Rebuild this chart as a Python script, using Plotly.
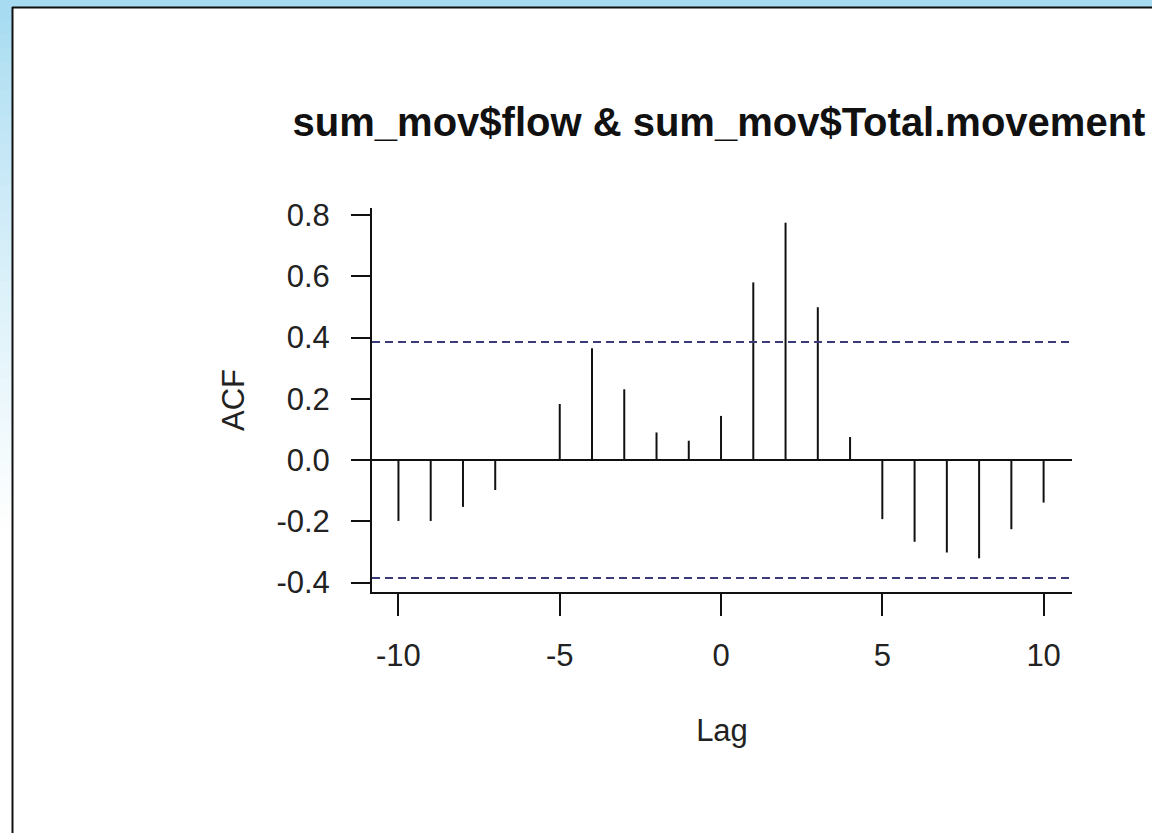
import plotly.graph_objects as go

# Cross-correlation of sum_mov$flow and sum_mov$Total.movement
lags = list(range(-10, 11))
acf_values = [-0.199, -0.199, -0.153, -0.098, 0.0, 0.183, 0.365, 0.231, 0.090, 0.063,
              0.144, 0.580, 0.775, 0.499, 0.075, -0.193, -0.267, -0.302, -0.321, -0.226, -0.139]
ci_bound = 0.385

y_tick_vals = [-0.4, -0.2, 0.0, 0.2, 0.4, 0.6, 0.8]
y_tick_text = ["-0.4", "-0.2", "0.0", "0.2", "0.4", "0.6", "0.8"]
x_tick_vals = [-10, -5, 0, 5, 10]
x_tick_text = ["-10", "-5", "0", "5", "10"]

title_text = "sum_mov$flow & sum_mov$Total.movement"

W, H = 1152, 833
L, R, T, B = 372, 80, 208, 241
PW, PH = W - L - R, H - T - B
FONT = "Liberation Sans, Arial, sans-serif"


def px_x(p):
    return (p - L) / PW


def px_y(p):
    return (H - B - p) / PH


# vertical stems from zero to each correlation value
stem_x, stem_y = [], []
for lag, v in zip(lags, acf_values):
    stem_x += [lag, lag, None]
    stem_y += [0, v, None]

fig = go.Figure()
fig.add_trace(go.Scatter(x=stem_x, y=stem_y, mode="lines",
                         line=dict(color="#111111", width=2),
                         hoverinfo="skip", showlegend=False))

shapes = []
# window frame: light blue strips with a dark border around the white page
n_bands = 60
band_h = (H - 7) / n_bands
top_rgb = (166, 219, 241)
for i in range(n_bands):
    t = min(1.0, (i * band_h) / 520.0)
    c = tuple(int(round(a + (255 - a) * (t ** 0.8))) for a in top_rgb)
    y0 = 7 + i * band_h
    shapes.append(dict(type="rect", xref="paper", yref="paper",
                       x0=px_x(0), x1=px_x(12), y0=px_y(y0 + band_h + 0.5), y1=px_y(y0),
                       line=dict(width=0), fillcolor="rgb(%d,%d,%d)" % c, layer="below"))
shapes.append(dict(type="rect", xref="paper", yref="paper",
                   x0=px_x(0), x1=px_x(W), y0=px_y(7.5), y1=px_y(0),
                   line=dict(width=0), fillcolor="rgb(166,219,241)", layer="below"))
shapes.append(dict(type="line", xref="paper", yref="paper",
                   x0=px_x(12.5), x1=px_x(12.5), y0=px_y(H), y1=px_y(7),
                   line=dict(color="#111111", width=2)))
shapes.append(dict(type="line", xref="paper", yref="paper",
                   x0=px_x(12), x1=px_x(W), y0=px_y(7.5), y1=px_y(7.5),
                   line=dict(color="#111111", width=2)))

# confidence bounds
for yv in (ci_bound, -ci_bound):
    shapes.append(dict(type="line", xref="paper", yref="y",
                       x0=0, x1=1, y0=yv, y1=yv,
                       line=dict(color="#3b3b78", width=2, dash="8px,5px")))

fig.update_layout(
    width=W, height=H,
    margin=dict(l=L, r=R, t=T, b=B, pad=0),
    paper_bgcolor="white", plot_bgcolor="white",
    font=dict(family=FONT, color="#222222"),
    shapes=shapes,
    title=dict(text="<b>" + title_text + "</b>",
               font=dict(family=FONT, size=40, color="#111111"),
               xref="paper", x=px_x(719), xanchor="center",
               yref="container", y=1 - 121.5 / H, yanchor="middle"),
    xaxis=dict(range=[-10.82, 10.88], showgrid=False, zeroline=False,
               showline=True, linecolor="#111111", linewidth=2,
               ticks="outside", ticklen=22, tickwidth=2, tickcolor="#111111",
               tickvals=x_tick_vals, ticktext=x_tick_text,
               tickfont=dict(size=31, color="#222222"), ticklabelstandoff=13,
               title=dict(text="Lag", font=dict(size=31, color="#222222"), standoff=47)),
    yaxis=dict(range=[-0.431, 0.823], showgrid=False,
               zeroline=True, zerolinecolor="#111111", zerolinewidth=2,
               showline=True, linecolor="#111111", linewidth=2,
               ticks="outside", ticklen=19, tickwidth=2, tickcolor="#111111",
               tickvals=y_tick_vals, ticktext=y_tick_text,
               tickfont=dict(size=31, color="#222222"), ticklabelstandoff=15,
               title=dict(text="ACF", font=dict(size=31, color="#222222"), standoff=23)),
)

fig.write_html("out.html")
